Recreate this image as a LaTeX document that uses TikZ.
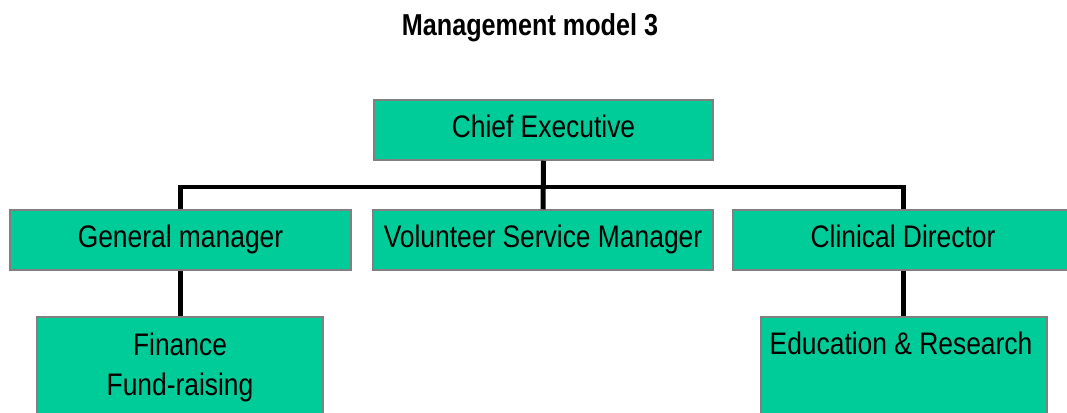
\documentclass[tikz,border=0pt]{standalone}
\usepackage{fontspec}
\setmainfont{Liberation Sans}
\usepackage{graphicx}
\definecolor{boxgreen}{RGB}{0,204,153}
\definecolor{boxline}{RGB}{128,128,128}
\newcommand{\tallbox}[1]{\scalebox{1}[1.18]{#1}}
\begin{document}
\begin{tikzpicture}[x=0.75pt,y=-0.75pt,
  orgbox/.style={draw=boxline, line width=1.5*0.75pt, fill=boxgreen, inner sep=0pt,
    text height=17pt, text depth=5pt,
    font=\fontsize{19.8pt}{24pt}\selectfont},
  labeltext/.style={inner sep=0pt, anchor=base, font=\fontsize{19.8pt}{24pt}\selectfont},
  vline/.style={draw=black, line width=5*0.75pt},
  hline/.style={draw=black, line width=3.5*0.75pt},
  titletext/.style={inner sep=0pt, font=\fontsize{18.9pt}{22pt}\selectfont\bfseries}
]
\useasboundingbox (0,0) rectangle (1067,413);
\clip (0,0) rectangle (1067,413);

\node[titletext] (title) at (530,28) {\scalebox{1}[1.2]{Management model 3}};

\coordinate (bus) at (541,187);

\node[orgbox, minimum width=339*0.75pt, minimum height=60*0.75pt] (chief) at (543.5,130) {\tallbox{Chief Executive}};
\node[orgbox, minimum width=341*0.75pt, minimum height=60*0.75pt] (gm) at (180.5,240) {\tallbox{General manager}};
\node[orgbox, minimum width=340*0.75pt, minimum height=60*0.75pt] (vol) at (543,240) {\tallbox{Volunteer Service Manager}};
\node[orgbox, minimum width=340*0.75pt, minimum height=60*0.75pt] (cd) at (903,240) {\tallbox{Clinical Director}};
\node[orgbox, minimum width=286*0.75pt, minimum height=110*0.75pt] (fin) at (180,372) {};
\node[orgbox, minimum width=286*0.75pt, minimum height=110*0.75pt] (edu) at (904,372) {};

\node[labeltext] (finA) at (180,355) {\tallbox{Finance}};
\node[labeltext] (finB) at (180,395) {\tallbox{Fund-raising}};
\node[labeltext] (eduA) at (901,354) {\tallbox{Education \& Research}};

\draw[vline] (chief.south) -- (vol.north);
\draw[vline, shorten >=-1.75*0.75pt] (gm.north) -- (gm.north |- bus);
\draw[vline, shorten >=-1.75*0.75pt] (cd.north) -- (cd.north |- bus);
\draw[hline] (gm.north |- bus) -- (cd.north |- bus);
\draw[vline] (gm.south) -- (gm.south |- fin.north);
\draw[vline] (cd.south) -- (cd.south |- edu.north);
\end{tikzpicture}
\end{document}
